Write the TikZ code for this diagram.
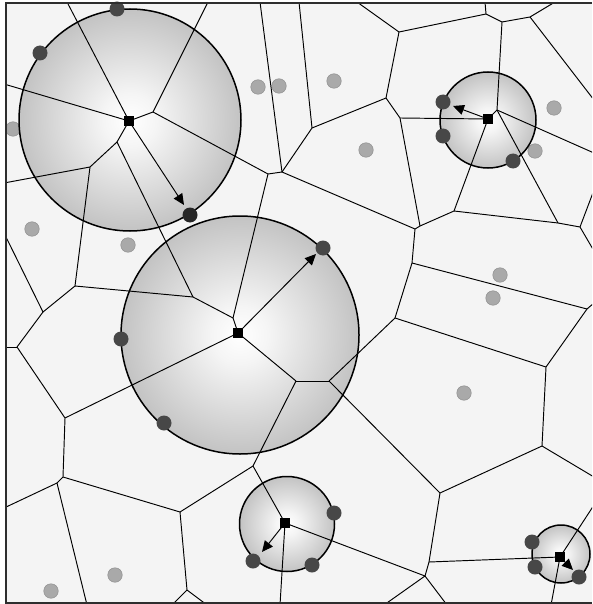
\documentclass[tikz,border=0pt]{standalone}
\usetikzlibrary{arrows.meta}
\definecolor{bgc}{HTML}{F4F4F4}
\definecolor{graydot}{HTML}{A9A9A9}
\definecolor{graydotb}{HTML}{8F8F8F}
\definecolor{darkdot}{HTML}{474747}
\definecolor{framec}{HTML}{2E2E2E}
\definecolor{rim}{HTML}{C3C3C3}
\pgfdeclareradialshading{ballshade}{\pgfpoint{0bp}{0bp}}{color(0bp)=(white); color(6bp)=(white!96!black); color(25bp)=(rim); color(50bp)=(rim)}
\begin{document}
\begin{tikzpicture}[x=1pt,y=-1pt,
  edge/.style={line width=0.95pt, black},
  circ/.style={line width=1.5pt, black},
  ball/.style={shading=ballshade},
  sq/.style={fill=black, minimum size=10pt, inner sep=0pt, outer sep=0pt},
  gdot/.style={circle, fill=graydot, draw=graydotb, line width=0.5pt, minimum size=14.5pt, inner sep=0pt},
  ddot/.style={circle, fill=darkdot, minimum size=15pt, inner sep=0pt},
  arr/.style={line width=0.95pt, black, -{Triangle[length=11pt,width=10pt]}},
  framel/.style={line width=2.8pt, framec}]
\useasboundingbox (0,0) rectangle (592,604);
\fill[white] (0,0) rectangle (592,604);
\fill[bgc] (6,3) rectangle (592,603);

% vertices
\coordinate (v1) at (153,112);
\coordinate (v2) at (268,174);
\coordinate (v3) at (282,172);
\coordinate (v4) at (312,128);
\coordinate (v5) at (386,98);
\coordinate (v6) at (399,32);
\coordinate (v7) at (486,14);
\coordinate (v8) at (502,22);
\coordinate (v9) at (530,17);
\coordinate (v10) at (497,110);
\coordinate (v11) at (400,118);
\coordinate (v12) at (420,226);
\coordinate (v13) at (415,229);
\coordinate (v14) at (454,211);
\coordinate (v15) at (558,223);
\coordinate (v16) at (580,227);
\coordinate (v17) at (412,263);
\coordinate (v18) at (587,309);
\coordinate (v19) at (395,318);
\coordinate (v20) at (546,367);
\coordinate (v21) at (542,446);
\coordinate (v22) at (329,381);
\coordinate (v23) at (296,381);
\coordinate (v24) at (233,318);
\coordinate (v25) at (193,297);
\coordinate (v26) at (117,142);
\coordinate (v27) at (90,167);
\coordinate (v28) at (75,286);
\coordinate (v29) at (43,312);
\coordinate (v30) at (17,347);
\coordinate (v31) at (65,418);
\coordinate (v32) at (63,477);
\coordinate (v33) at (57,483);
\coordinate (v34) at (180,512);
\coordinate (v35) at (253,466);
\coordinate (v36) at (187,590);
\coordinate (v37) at (440,493);
\coordinate (v38) at (429,562);
\coordinate (v39) at (425,576);
% border ends
\coordinate (b1) at (67,2);
\coordinate (b2) at (4,84);
\coordinate (b3) at (208,2);
\coordinate (b4) at (260,2);
\coordinate (b5) at (299,2);
\coordinate (b6) at (357,2);
\coordinate (b7) at (485,2);
\coordinate (b8) at (555,2);
\coordinate (b9) at (594,100);
\coordinate (b10) at (594,153);
\coordinate (b11) at (594,190);
\coordinate (b12) at (594,251);
\coordinate (b13) at (594,303);
\coordinate (b14) at (594,477);
\coordinate (b15) at (594,505);
\coordinate (b16) at (551,605);
\coordinate (b17) at (447,605);
\coordinate (b18) at (384,605);
\coordinate (b19) at (280,605);
\coordinate (b20) at (207,605);
\coordinate (b21) at (172,605);
\coordinate (b22) at (87,605);
\coordinate (b23) at (4,508);
\coordinate (b24) at (4,347);
\coordinate (b25) at (4,233);
\coordinate (b26) at (4,183);
% centres of the balls
\coordinate (c1) at (130,120);
\coordinate (c2) at (240,335);
\coordinate (c3) at (488,120);
\coordinate (c4) at (287,524);
\coordinate (c5) at (561,554);

% grey points
\foreach \p in {(13,129),(258,87),(279,86),(334,81),(366,150),(554,108),(535,151),(32,229),(128,245),(500,275),(493,298),(464,393),(115,575),(51,591)}
  \node[gdot] at \p {};

% balls
\shade[ball] (c1) circle (111pt);
\shade[ball] (c2) circle (119pt);
\shade[ball] (c3) circle (48pt);
\shade[ball] (c4) circle (47.5pt);
\shade[ball] (c5) circle (29pt);
\draw[circ] (c1) circle (111pt);
\draw[circ] (c2) circle (119pt);
\draw[circ] (c3) circle (48pt);
\draw[circ] (c4) circle (47.5pt);
\draw[circ] (c5) circle (29pt);

% sites
\node[sq] (S1) at (129,121) {};
\node[sq] (S2) at (238,333) {};
\node[sq] (S3) at (488,119) {};
\node[sq] (S4) at (285,523) {};
\node[sq] (S5) at (560,557) {};

\begin{scope}
\clip (6,3) rectangle (592,603);
\foreach \a/\b in {S1/b1, S1/b2, S1/v1, v1/b3, v1/v2, v2/v3, v2/v24, v3/b4, v3/v4, v3/v13,
  v4/b5, v4/v5, v5/v6, v5/v11, v6/b6, v6/v7, v7/b7, v7/v8, v8/v9, v9/b8, v9/b9,
  v8/v10, v10/S3, v10/b10, v10/v15, S3/v11, S3/v14, v11/v12, v12/v13, v12/v14,
  v14/v15, v15/v16, v16/b11, v16/b12, v13/v17, v17/v18, v17/v19, v18/b13, v18/v20,
  v19/v22, v19/v20, v20/v21, v21/b14, v21/v37, v22/v23, v22/v37, v23/S2, v23/v35,
  S2/v24, v24/v25, v25/v28, v25/v26, v26/S1, v26/v27, v27/b26, v27/v28, v28/v29,
  b25/v29, v29/v30, v30/b24, v30/v31, v31/S2, v31/v32, v32/v34, v32/v33, v33/b23,
  v33/b22, v34/v35, v34/v36, v35/S4, v36/b21, v36/b20, S4/b19, S4/v39, v39/b18,
  v39/b17, v39/v38, v38/S5, v38/v37, S5/b15, S5/b16}
  \draw[edge] (\a.center) -- (\b.center);
\end{scope}

% arrows
\coordinate (a1) at (184,205);
\coordinate (a2) at (316,254);
\coordinate (a3) at (453,106);
\coordinate (a4) at (262,552);
\coordinate (a5) at (573,570);
\draw[arr] (S1.center) -- (a1);
\draw[arr] (S2.center) -- (a2);
\draw[arr] (S3.center) -- (a3);
\draw[arr] (S4.center) -- (a4);
\draw[arr] (S5.center) -- (a5);

% dark points on the spheres
\foreach \p in {(117,9),(40,53),(323,248),(121,339),(164,423),(443,102),(443,136),(513,161),(334,513),(253,561),(312,565),(532,542),(535,567),(579,577)}
  \node[ddot] at \p {};
\node[ddot, fill=black!85] at (190,215) {};

% re-draw squares on top
\node[sq] at (S1) {};
\node[sq] at (S2) {};
\node[sq] at (S3) {};
\node[sq] at (S4) {};
\node[sq] at (S5) {};

% frame
\draw[framel] (592,3) -- (6,3) -- (6,603) -- (592,603);
\end{tikzpicture}
\end{document}
